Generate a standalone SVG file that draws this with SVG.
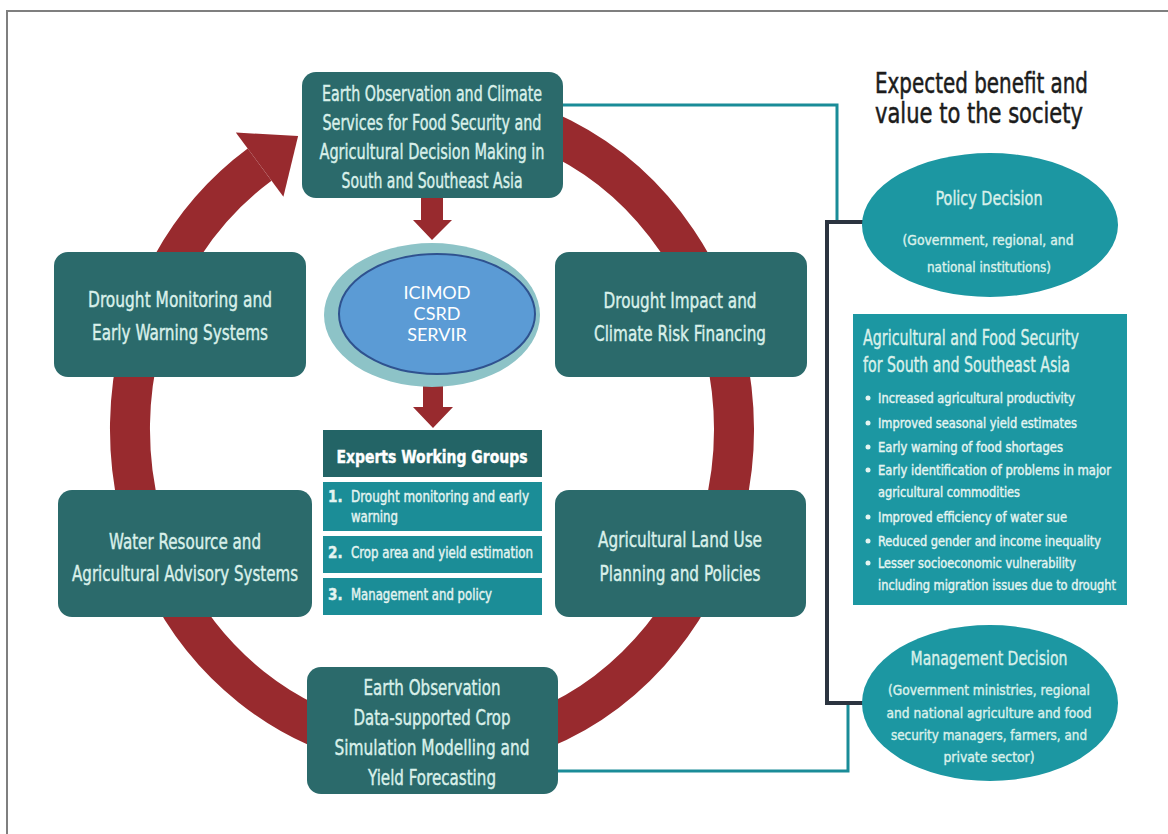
<svg xmlns="http://www.w3.org/2000/svg" width="1168" height="834" viewBox="0 0 1168 834">
  <defs>
    <style>
      .box { fill: #2b6a6b; }
      .teal { fill: #1c97a2; }
      .row { fill: #1b8d97; }
      .red { fill: #982a2e; }
      .t { font-family: 'DejaVu Sans Condensed', 'Liberation Sans Narrow', 'Liberation Sans', sans-serif; fill: #d9f0ea; stroke: #d9f0ea; stroke-width: 0.4; text-anchor: middle; }
      .main { font-size: 21px; }
      .sm { font-size: 14px; }
      .row-t { font-size: 15px; text-anchor: start; fill: #e4f4f1; stroke: #e4f4f1; }
      .num { font-size: 15px; font-weight: bold; text-anchor: start; fill: #e4f4f1; stroke: #e4f4f1; }
      .hd { font-size: 18px; font-weight: bold; fill: #ffffff; stroke: #ffffff; }
      .title { font-size: 28px; fill: #1c1c1c; stroke: #1c1c1c; stroke-width: 0.5; text-anchor: start; }
      .org { font-family: Lato, 'Open Sans', 'Liberation Sans', sans-serif; font-size: 18px; fill: #ffffff; text-anchor: middle; }
      .bul { font-size: 14px; text-anchor: start; fill: #e4f4f1; stroke: #e4f4f1; }
      .conn { fill: none; }
    </style>
  </defs>

  <rect width="1168" height="834" fill="#ffffff"/>
  <!-- frame -->
  <path d="M7 834 V11 H1168" fill="none" stroke="#7f7f7f" stroke-width="2"/>

  <!-- cycle ring with arrowhead -->
  <g id="cycle">
    <path d="M432 107 A302 322 0 1 1 259.6 164.6" fill="none" stroke="#982a2e" stroke-width="40"/>
    <polygon class="red" points="235.8,132.5 298.1,136 283.4,196.7"/>
  </g>

  <!-- connectors -->
  <g id="connectors">
    <path class="conn" d="M560 105 H837 V222" stroke="#1a8c98" stroke-width="3"/>
    <path class="conn" d="M556 771 H848 V703" stroke="#1a8c98" stroke-width="3"/>
    <path class="conn" d="M864 222 H827 V703 H864" stroke="#2b3440" stroke-width="4"/>
    <!-- down arrows in the centre -->
    <polygon class="red" points="421,197 443,197 443,220 452,220 432,240 413,220 421,220"/>
    <polygon class="red" points="423,386 443,386 443,407 453,407 433,428 413,407 423,407"/>
  </g>

  <g id="node-eo-climate">
    <rect class="box" x="302" y="72" width="261" height="126" rx="14"/>
    <text class="t main" x="432" y="101" textLength="220" lengthAdjust="spacingAndGlyphs">Earth Observation and Climate</text>
    <text class="t main" x="432" y="130" textLength="219" lengthAdjust="spacingAndGlyphs">Services for Food Security and</text>
    <text class="t main" x="432" y="159" textLength="225" lengthAdjust="spacingAndGlyphs">Agricultural Decision Making in</text>
    <text class="t main" x="432" y="188" textLength="181" lengthAdjust="spacingAndGlyphs">South and Southeast Asia</text>
  </g>

  <g id="node-drought-monitoring">
    <rect class="box" x="54" y="252" width="252" height="125" rx="14"/>
    <text class="t main" x="180" y="307" textLength="184" lengthAdjust="spacingAndGlyphs">Drought Monitoring and</text>
    <text class="t main" x="180" y="340" textLength="176" lengthAdjust="spacingAndGlyphs">Early Warning Systems</text>
  </g>

  <g id="node-drought-impact">
    <rect class="box" x="555" y="252" width="252" height="125" rx="14"/>
    <text class="t main" x="680" y="308" textLength="153" lengthAdjust="spacingAndGlyphs">Drought Impact and</text>
    <text class="t main" x="680" y="341" textLength="172" lengthAdjust="spacingAndGlyphs">Climate Risk Financing</text>
  </g>

  <g id="node-water-resource">
    <rect class="box" x="58" y="490" width="254" height="127" rx="14"/>
    <text class="t main" x="185" y="549" textLength="152" lengthAdjust="spacingAndGlyphs">Water Resource and</text>
    <text class="t main" x="185" y="581" textLength="226" lengthAdjust="spacingAndGlyphs">Agricultural Advisory Systems</text>
  </g>

  <g id="node-land-use">
    <rect class="box" x="555" y="490" width="251" height="127" rx="14"/>
    <text class="t main" x="680" y="547" textLength="164" lengthAdjust="spacingAndGlyphs">Agricultural Land Use</text>
    <text class="t main" x="680" y="581" textLength="161" lengthAdjust="spacingAndGlyphs">Planning and Policies</text>
  </g>

  <g id="node-crop-simulation">
    <rect class="box" x="307" y="667" width="251" height="127" rx="14"/>
    <text class="t main" x="432" y="695" textLength="137" lengthAdjust="spacingAndGlyphs">Earth Observation</text>
    <text class="t main" x="432" y="725" textLength="157" lengthAdjust="spacingAndGlyphs">Data-supported Crop</text>
    <text class="t main" x="432" y="755" textLength="195" lengthAdjust="spacingAndGlyphs">Simulation Modelling and</text>
    <text class="t main" x="432" y="785" textLength="128" lengthAdjust="spacingAndGlyphs">Yield Forecasting</text>
  </g>

  <g id="node-partners">
    <ellipse cx="432" cy="315" rx="108" ry="72" fill="#8dc3c7"/>
    <ellipse cx="437" cy="314" rx="98" ry="60" fill="#5b9bd5" stroke="#2f528f" stroke-width="2"/>
    <text class="org" x="437" y="299">ICIMOD</text>
    <text class="org" x="437" y="320">CSRD</text>
    <text class="org" x="437" y="341">SERVIR</text>
  </g>

  <g id="node-working-groups">
    <rect x="323" y="430" width="219" height="47" fill="#236466"/>
    <text class="t hd" x="432" y="463" textLength="191" lengthAdjust="spacingAndGlyphs">Experts Working Groups</text>
    <rect class="row" x="323" y="482" width="219" height="49"/>
    <rect class="row" x="323" y="536" width="219" height="37"/>
    <rect class="row" x="323" y="578" width="219" height="37"/>
    <text class="t num" x="328" y="502">1.</text>
    <text class="t row-t" x="351" y="502" textLength="178" lengthAdjust="spacingAndGlyphs">Drought monitoring and early</text>
    <text class="t row-t" x="351" y="522" textLength="47" lengthAdjust="spacingAndGlyphs">warning</text>
    <text class="t num" x="328" y="558">2.</text>
    <text class="t row-t" x="351" y="558" textLength="182" lengthAdjust="spacingAndGlyphs">Crop area and yield estimation</text>
    <text class="t num" x="328" y="600">3.</text>
    <text class="t row-t" x="351" y="600" textLength="141" lengthAdjust="spacingAndGlyphs">Management and policy</text>
  </g>

  <g id="heading-benefit">
    <text class="t title" x="875" y="93" textLength="213" lengthAdjust="spacingAndGlyphs">Expected benefit and</text>
    <text class="t title" x="875" y="123" textLength="208" lengthAdjust="spacingAndGlyphs">value to the society</text>
  </g>

  <g id="node-policy">
    <ellipse class="teal" cx="990" cy="225" rx="128" ry="72"/>
    <text class="t" x="989" y="205" font-size="20" textLength="107" lengthAdjust="spacingAndGlyphs">Policy Decision</text>
    <text class="t sm" x="988" y="245" textLength="171" lengthAdjust="spacingAndGlyphs">(Government, regional, and</text>
    <text class="t sm" x="989" y="272" textLength="124" lengthAdjust="spacingAndGlyphs">national institutions)</text>
  </g>

  <g id="node-food-security">
    <rect class="teal" x="853" y="314" width="274" height="291"/>
    <text class="t" x="863" y="345" font-size="21" textLength="216" lengthAdjust="spacingAndGlyphs" style="text-anchor:start">Agricultural and Food Security</text>
    <text class="t" x="863" y="372" font-size="21" textLength="207" lengthAdjust="spacingAndGlyphs" style="text-anchor:start">for South and Southeast Asia</text>
    <g fill="#e4f4f1">
      <circle cx="868" cy="398" r="2.5"/>
      <circle cx="868" cy="423" r="2.5"/>
      <circle cx="868" cy="447" r="2.5"/>
      <circle cx="868" cy="470" r="2.5"/>
      <circle cx="868" cy="517" r="2.5"/>
      <circle cx="868" cy="541" r="2.5"/>
      <circle cx="868" cy="563" r="2.5"/>
    </g>
    <text class="t bul" x="878" y="403" textLength="197" lengthAdjust="spacingAndGlyphs">Increased agricultural productivity</text>
    <text class="t bul" x="878" y="428" textLength="199" lengthAdjust="spacingAndGlyphs">Improved seasonal yield estimates</text>
    <text class="t bul" x="878" y="452" textLength="185" lengthAdjust="spacingAndGlyphs">Early warning of food shortages</text>
    <text class="t bul" x="878" y="475" textLength="233" lengthAdjust="spacingAndGlyphs">Early identification of problems in major</text>
    <text class="t bul" x="878" y="497" textLength="142" lengthAdjust="spacingAndGlyphs">agricultural commodities</text>
    <text class="t bul" x="878" y="522" textLength="189" lengthAdjust="spacingAndGlyphs">Improved efficiency of water sue</text>
    <text class="t bul" x="878" y="546" textLength="223" lengthAdjust="spacingAndGlyphs">Reduced gender and income inequality</text>
    <text class="t bul" x="878" y="568" textLength="198" lengthAdjust="spacingAndGlyphs">Lesser socioeconomic vulnerability</text>
    <text class="t bul" x="878" y="590" textLength="238" lengthAdjust="spacingAndGlyphs">including migration issues due to drought</text>
  </g>

  <g id="node-management">
    <ellipse class="teal" cx="990" cy="703" rx="128" ry="78"/>
    <text class="t" x="989" y="665" font-size="20" textLength="157" lengthAdjust="spacingAndGlyphs">Management Decision</text>
    <text class="t sm" x="989" y="695" textLength="202" lengthAdjust="spacingAndGlyphs">(Government ministries, regional</text>
    <text class="t sm" x="989" y="718" textLength="205" lengthAdjust="spacingAndGlyphs">and national agriculture and food</text>
    <text class="t sm" x="989" y="740" textLength="196" lengthAdjust="spacingAndGlyphs">security managers, farmers, and</text>
    <text class="t sm" x="989" y="762" textLength="91" lengthAdjust="spacingAndGlyphs">private sector)</text>
  </g>
</svg>
